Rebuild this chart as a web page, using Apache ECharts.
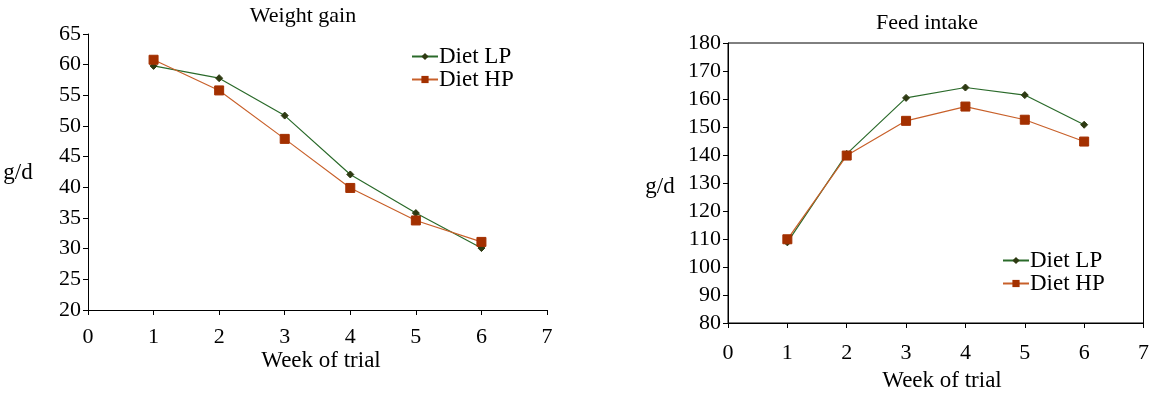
<!DOCTYPE html>
<html>
<head>
<meta charset="utf-8">
<script src="https://cdn.jsdelivr.net/npm/echarts@6/dist/echarts.min.js"></script>
<style>
  html, body { margin: 0; padding: 0; background: #fff; }
  #main { width: 1152px; height: 394px; }
</style>
</head>
<body>
<div id="main"></div>
<script>
var weeks = [1, 2, 3, 4, 5, 6];
var gainLP = [59.8, 57.8, 51.7, 42.1, 35.8, 30.1];
var gainHP = [60.8, 55.8, 47.9, 39.9, 34.6, 31.1];
var intakeLP = [108.8, 140.4, 160.4, 164.1, 161.4, 150.8];
var intakeHP = [109.9, 139.8, 152.2, 157.3, 152.6, 144.8];
var seriesNames = ['Diet LP', 'Diet HP'];

var FONT = '"Liberation Serif", "Times New Roman", serif';
var greenLine = '#2a6a2a', greenMark = '#2e3a12';
var orangeLine = '#c8602a', orangeMark = '#a33000';

function pairs(xs, ys) {
  return xs.map(function (x, i) { return [x, ys[i]]; });
}

function xAxisFor(gi, margin) {
  return {
    gridIndex: gi, type: 'value', min: 0, max: 7, interval: 1,
    axisLine: { lineStyle: { color: '#000', width: 1 } },
    axisTick: { show: true, inside: false, length: 5, lineStyle: { color: '#000' } },
    axisLabel: { color: '#000', fontFamily: FONT, fontSize: 22, margin: margin },
    splitLine: { show: false }
  };
}

function yAxisFor(gi, min, max, step) {
  return {
    gridIndex: gi, type: 'value', min: min, max: max, interval: step,
    axisLine: { show: true, lineStyle: { color: '#000', width: 1 } },
    axisTick: { show: true, inside: false, length: 5, lineStyle: { color: '#000' } },
    axisLabel: { color: '#000', fontFamily: FONT, fontSize: 22, margin: 7 },
    splitLine: { show: false }
  };
}

function lineSeries(name, gi, data, lc, mc, sym, size) {
  return {
    name: name, type: 'line', xAxisIndex: gi, yAxisIndex: gi,
    data: data, symbol: sym, symbolSize: size, showSymbol: true,
    lineStyle: { color: lc, width: 1.2 },
    itemStyle: { color: mc, borderColor: mc },
    animation: false
  };
}

function label(x, y, text, size) {
  return {
    type: 'text', x: x, y: y,
    style: { text: text, fill: '#000', font: size + 'px ' + FONT, align: 'center', verticalAlign: 'middle' }
  };
}

var chart = echarts.init(document.getElementById('main'));
chart.setOption({
  backgroundColor: '#fff',
  animation: false,
  grid: [
    { left: 88, top: 34, width: 459, height: 276 },
    { left: 728, top: 43, width: 416, height: 280, show: true, borderColor: '#000', borderWidth: 1, backgroundColor: 'transparent' }
  ],
  xAxis: [xAxisFor(0, 16), xAxisFor(1, 19)],
  yAxis: [yAxisFor(0, 20, 65, 5), yAxisFor(1, 80, 180, 10)],
  legend: [
    {
      data: seriesNames.map(function (n) { return { name: n }; }),
      orient: 'vertical', left: 406, top: 40, itemGap: 0,
      itemWidth: 26, itemHeight: 9,
      textStyle: { color: '#000', fontFamily: FONT, fontSize: 23, padding: [0, 0, 0, -4] },
      selectedMode: false
    },
    {
      data: seriesNames.map(function (n) { return { name: n + ' ' }; }),
      orient: 'vertical', left: 997, top: 244, itemGap: 0,
      itemWidth: 26, itemHeight: 9,
      textStyle: { color: '#000', fontFamily: FONT, fontSize: 23, padding: [0, 0, 0, -4] },
      selectedMode: false
    }
  ],
  series: [
    lineSeries(seriesNames[0], 0, pairs(weeks, gainLP), greenLine, greenMark, 'diamond', 7),
    lineSeries(seriesNames[1], 0, pairs(weeks, gainHP), orangeLine, orangeMark, 'rect', 9),
    lineSeries(seriesNames[0] + ' ', 1, pairs(weeks, intakeLP), greenLine, greenMark, 'diamond', 7),
    lineSeries(seriesNames[1] + ' ', 1, pairs(weeks, intakeHP), orangeLine, orangeMark, 'rect', 9)
  ],
  graphic: [
    label(303, 16, 'Weight gain', 22),
    label(927, 23, 'Feed intake', 22),
    label(18, 173, 'g/d', 23),
    label(660, 187, 'g/d', 23),
    label(321, 361, 'Week of trial', 23),
    label(942, 381, 'Week of trial', 23)
  ]
});
</script>
</body>
</html>
